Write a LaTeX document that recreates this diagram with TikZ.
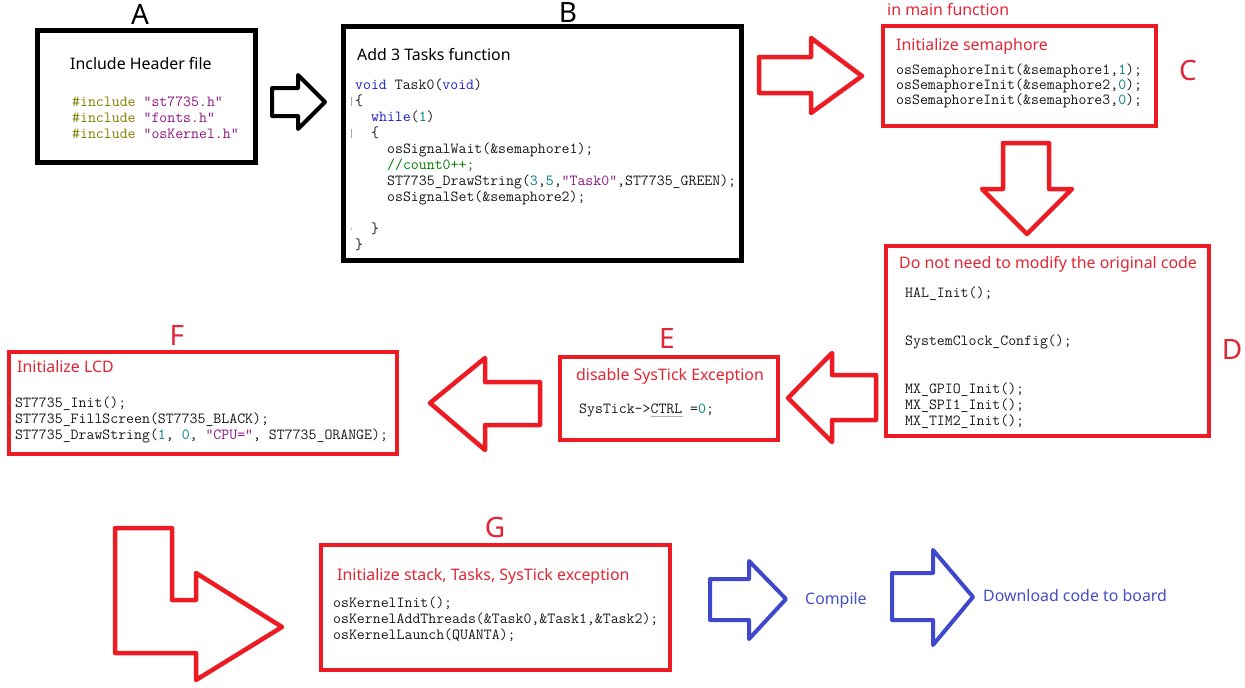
\documentclass[tikz,border=0pt]{standalone}
\usepackage{fontspec}
\setmainfont{Noto Sans}

% palette
\definecolor{pred}{RGB}{237,28,36}
\definecolor{rtext}{RGB}{226,38,54}
\definecolor{pblue}{RGB}{63,72,204}
\definecolor{btext}{RGB}{72,78,196}
\definecolor{ckw}{RGB}{30,30,200}
\definecolor{cnum}{RGB}{0,128,128}
\definecolor{cstr}{RGB}{140,20,130}
\definecolor{cpre}{RGB}{128,128,0}
\definecolor{ccmt}{RGB}{0,128,0}
\definecolor{ink}{RGB}{25,25,25}

% syntax colouring helpers
\newcommand{\cKw}[1]{\textcolor{ckw}{#1}}
\newcommand{\cNum}[1]{\textcolor{cnum}{#1}}
\newcommand{\cStr}[1]{\textcolor{cstr}{#1}}
\newcommand{\cPre}[1]{\textcolor{cpre}{#1}}
\newcommand{\cCmt}[1]{\textcolor{ccmt}{#1}}

\begin{document}
\begin{tikzpicture}[x=1pt,y=-1pt,
  bbox/.style={draw=black, line width=5pt, anchor=north west, inner sep=0pt, outer sep=0pt},
  rbox/.style={draw=pred, line width=4pt, anchor=north west, inner sep=0pt, outer sep=0pt},
  title/.style={anchor=base west, inner sep=0pt, font=\fontsize{15.9}{19}\selectfont, text=black},
  rtitle/.style={title, text=rtext},
  btitle/.style={title, text=btext},
  code/.style={anchor=base west, inner sep=0pt, font=\ttfamily\fontsize{15.4}{16}\selectfont, text=ink},
  letter/.style={anchor=base, inner sep=0pt, font=\fontsize{28}{32}\selectfont},
  blockarrow/.style={line width=4.5pt, line join=round, fill=white},
]
\useasboundingbox (0,0) rectangle (1245,688);
\fill[white] (0,0) rectangle (1245,688);

% ---------- boxes ----------
\node[bbox, minimum width=218pt, minimum height=132pt] (A) at (37.5,30.5) {};
\node[bbox, minimum width=398pt, minimum height=234pt] (B) at (343.5,26.5) {};
\node[rbox, minimum width=273pt, minimum height=100pt] (C) at (883,26) {};
\node[rbox, minimum width=323pt, minimum height=190pt] (D) at (886,246) {};
\node[rbox, minimum width=218pt, minimum height=83pt]  (E) at (560,357) {};
\node[rbox, minimum width=388pt, minimum height=102pt] (F) at (9,352) {};
\node[rbox, minimum width=349pt, minimum height=125pt] (G) at (321,545) {};

% ---------- step letters ----------
\node[letter, text=black] (lA) at (140,24) {A};
\node[letter, text=black] (lB) at (568,22) {B};
\node[letter, text=rtext] (lC) at (1188,80) {C};
\node[letter, text=rtext] (lD) at (1232,359) {D};
\node[letter, text=rtext] (lE) at (667,348) {E};
\node[letter, text=rtext] (lF) at (177,345) {F};
\node[letter, text=rtext] (lG) at (495,537) {G};

% ---------- A: headers ----------
\node[title] (tA) at (70,69.5) {Include Header file};
\node[code] (a1) at (72,106.5) {\cPre{\#include} \cStr{"st7735.h"}};
\node[code] (a2) at (72,122.5) {\cPre{\#include} \cStr{"fonts.h"}};
\node[code] (a3) at (72,138.5) {\cPre{\#include} \cStr{"osKernel.h"}};

% ---------- B: task function ----------
\node[title] (tB) at (357,60.5) {Add 3 Tasks function};
\node[code] (b1) at (355,89.5)  {\cKw{void} Task0(\cKw{void})};
\node[code] (b2) at (355,105.5) {\{};
\node[code] (b3) at (371,121.5) {\cKw{while}(\cNum{1})};
\node[code] (b4) at (371,137.5) {\{};
\node[code] (b5) at (387,153.5) {osSignalWait(\&semaphore1);};
\node[code] (b6) at (387,169.5) {\cCmt{//count0++;}};
\node[code] (b7) at (387,185.5) {ST7735\_DrawString(\cNum{3},\cNum{5},\cStr{"Task0"},ST7735\_GREEN);};
\node[code] (b8) at (387,201.5) {osSignalSet(\&semaphore2);};
\node[code] (b9) at (371,233.5) {\}};
\node[code] (b10) at (355,249.5) {\}};
% editor gutter marks
\draw[gray!70, line width=1pt] (351,97) -- (351,106);
\draw[gray!70, line width=1pt] (351,129) -- (351,138);
\fill[gray!60] (351.5,229) circle (0.8pt);

% ---------- C: semaphores ----------
\node[rtitle] (mC) at (887,15.5) {in main function};
\node[rtitle] (tC) at (896,50.5) {Initialize semaphore};
\node[code] (c1) at (896,74.5)  {osSemaphoreInit(\&semaphore1,\cNum{1});};
\node[code] (c2) at (896,89.5)  {osSemaphoreInit(\&semaphore2,\cNum{0});};
\node[code] (c3) at (896,104.5) {osSemaphoreInit(\&semaphore3,\cNum{0});};

% ---------- D: generated code ----------
\node[rtitle] (tD) at (899,268.5) {Do not need to modify the original code};
\node[code] (d1) at (905,297.5) {HAL\_Init();};
\node[code] (d2) at (905,345.5) {SystemClock\_Config();};
\node[code] (d3) at (905,393.5) {MX\_GPIO\_Init();};
\node[code] (d4) at (905,409.5) {MX\_SPI1\_Init();};
\node[code] (d5) at (905,425.5) {MX\_TIM2\_Init();};

% ---------- E: SysTick off ----------
\node[rtitle] (tE) at (576,380.5) {disable SysTick Exception};
\node[code] (e1) at (579,413.5) {SysTick->CTRL =\cNum{0};};
\draw[gray!60, line width=0.6pt] (651,416.5) -- (683,416.5);

% ---------- F: LCD ----------
\node[rtitle] (tF) at (17,372.5) {Initialize LCD};
\node[code] (f1) at (15,407.5) {ST7735\_Init();};
\node[code] (f2) at (15,423.5) {ST7735\_FillScreen(ST7735\_BLACK);};
\node[code] (f3) at (15,439.5) {ST7735\_DrawString(\cNum{1}, \cNum{0}, \cStr{"CPU="}, ST7735\_ORANGE);};

% ---------- G: kernel ----------
\node[rtitle] (tG) at (337,580.5) {Initialize stack, Tasks, SysTick exception};
\node[code] (g1) at (333,607.5) {osKernelInit();};
\node[code] (g2) at (333,623.5) {osKernelAddThreads(\&Task0,\&Task1,\&Task2);};
\node[code] (g3) at (333,639.5) {osKernelLaunch(QUANTA);};

% ---------- final steps ----------
\node[btitle] (comp) at (805,604.5) {Compile};
\node[btitle] (dl) at (983,601.5) {Download code to board};

% ---------- block arrows ----------
\draw[blockarrow, draw=black, line width=4pt]
  (272,88) -- (298,88) -- (298,75) -- (325,102) -- (298,129) -- (298,116) -- (272,116) -- cycle;
\draw[blockarrow, draw=pred]
  (759,57) -- (811,57) -- (811,38) -- (862,76) -- (811,113) -- (811,93) -- (759,93) -- cycle;
\draw[blockarrow, draw=pred]
  (1003,143) -- (1049,143) -- (1049,189) -- (1072,189) -- (1027,234) -- (982,189) -- (1003,189) -- cycle;
\draw[blockarrow, draw=pred]
  (876,375) -- (832,375) -- (832,353) -- (788,398) -- (832,442) -- (832,420) -- (876,420) -- cycle;
\draw[blockarrow, draw=pred]
  (540,382) -- (485,382) -- (485,358) -- (430,403) -- (485,450) -- (485,425) -- (540,425) -- cycle;
\draw[blockarrow, draw=pred]
  (115,528) -- (172,528) -- (172,600) -- (196,600) -- (196,573) -- (282,627) -- (196,680) -- (196,653) -- (115,653) -- cycle;
\draw[blockarrow, draw=pblue, line width=4pt]
  (710,579) -- (749,579) -- (749,561) -- (786,599) -- (749,639) -- (749,620) -- (710,620) -- cycle;
\draw[blockarrow, draw=pblue, line width=4pt]
  (892,573) -- (933,573) -- (933,550) -- (973,597) -- (933,645) -- (933,620) -- (892,620) -- cycle;
\end{tikzpicture}
\end{document}
